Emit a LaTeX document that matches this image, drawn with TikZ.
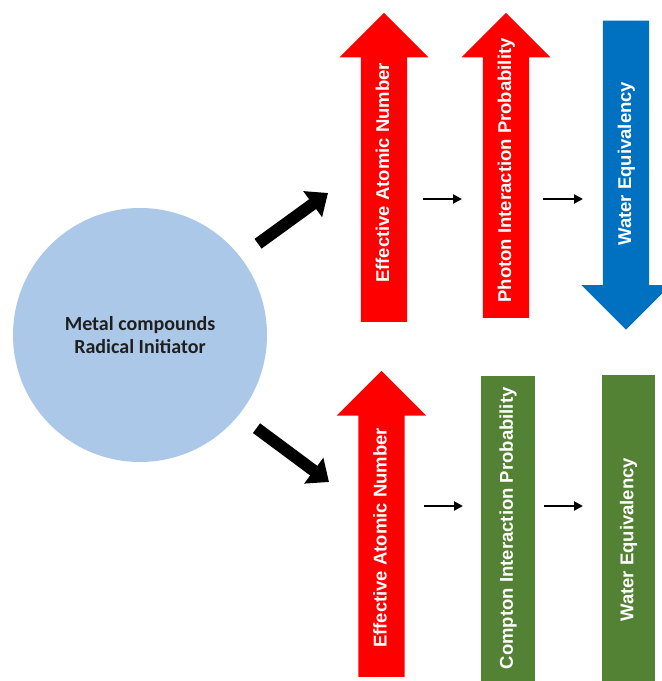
\documentclass[tikz,border=0pt]{standalone}
\usepackage{fontspec}
\setmainfont{Liberation Sans}
\newfontfamily\calibri{Carlito}
\usetikzlibrary{shapes.arrows,arrows.meta,calc}
\definecolor{circblue}{RGB}{172,200,232}
\definecolor{upred}{RGB}{255,0,0}
\definecolor{downblue}{RGB}{0,112,192}
\definecolor{bargreen}{RGB}{84,130,53}

\begin{document}
\begin{tikzpicture}[x=1pt,y=1pt,
    bigarrow/.style={single arrow, single arrow head extend=21.5pt,
      rotate=90, anchor=tail, inner xsep=0pt, inner ysep=14pt,
      text height=14pt, text depth=4pt, text=white,
      font=\bfseries\fontsize{18.5}{20}\selectfont},
    greenbar/.style={rectangle, fill=bargreen, rotate=90, anchor=west,
      inner sep=0pt, text=white, font=\bfseries\fontsize{18.5}{20}\selectfont},
    fatarrow/.style={line width=12pt, -{Triangle[length=19pt,width=31pt]}},
    thinarrow/.style={line width=2.5pt, -{Triangle[length=9pt,width=9pt]}}]
  \useasboundingbox (0,0) rectangle (662,681);

  \node[circle, fill=circblue, minimum size=254pt, align=center, text=black!88,
    font=\calibri\bfseries\fontsize{20}{23}\selectfont] (src) at (140,346)
    {Metal compounds\\Radical Initiator};

  % upper row
  \node[bigarrow, fill=upred, minimum height=309pt] (ean1) at (384,359) {\hspace*{12pt}Effective Atomic Number};
  \node[bigarrow, fill=upred, minimum height=305pt] (photon) at (506,363) {\hspace*{13pt}Photon Interaction Probability};
  \node[bigarrow, fill=downblue, minimum height=309pt, shape border rotate=180, anchor=tip] (water1) at (626,351) {Water Equivalency};

  % lower row
  \node[bigarrow, fill=upred, minimum height=306pt] (ean2) at (381.5,4) {Effective Atomic Number\hspace*{5pt}};
  \node[greenbar, minimum width=305pt, minimum height=54pt] (compton) at (508,0) {Compton Interaction Probability};
  \node[greenbar, minimum width=306pt, minimum height=53pt] (water2) at (628.5,0) {Water Equivalency\hspace*{24pt}};

  \coordinate (tip1) at (328,488);
  \coordinate (tip2) at (329,199);
  \draw[fatarrow, shorten <=22pt] (src.38) -- (tip1);
  \draw[fatarrow, shorten <=22pt] (src.-39) -- (tip2);

  \coordinate (row1) at (0,482);
  \coordinate (row2) at (0,175);
  \draw[thinarrow] ($(ean1.center |- row1)+(39,0)$) -- ($(photon.center |- row1)+(-44,0)$);
  \draw[thinarrow] ($(photon.center |- row1)+(37,0)$) -- ($(water1.center |- row1)+(-43,0)$);
  \draw[thinarrow] ($(ean2.center |- row2)+(42.5,0)$) -- ($(compton.center |- row2)+(-45,0)$);
  \draw[thinarrow] ($(compton.center |- row2)+(36,0)$) -- ($(water2.center |- row2)+(-45.5,0)$);
\end{tikzpicture}
\end{document}
